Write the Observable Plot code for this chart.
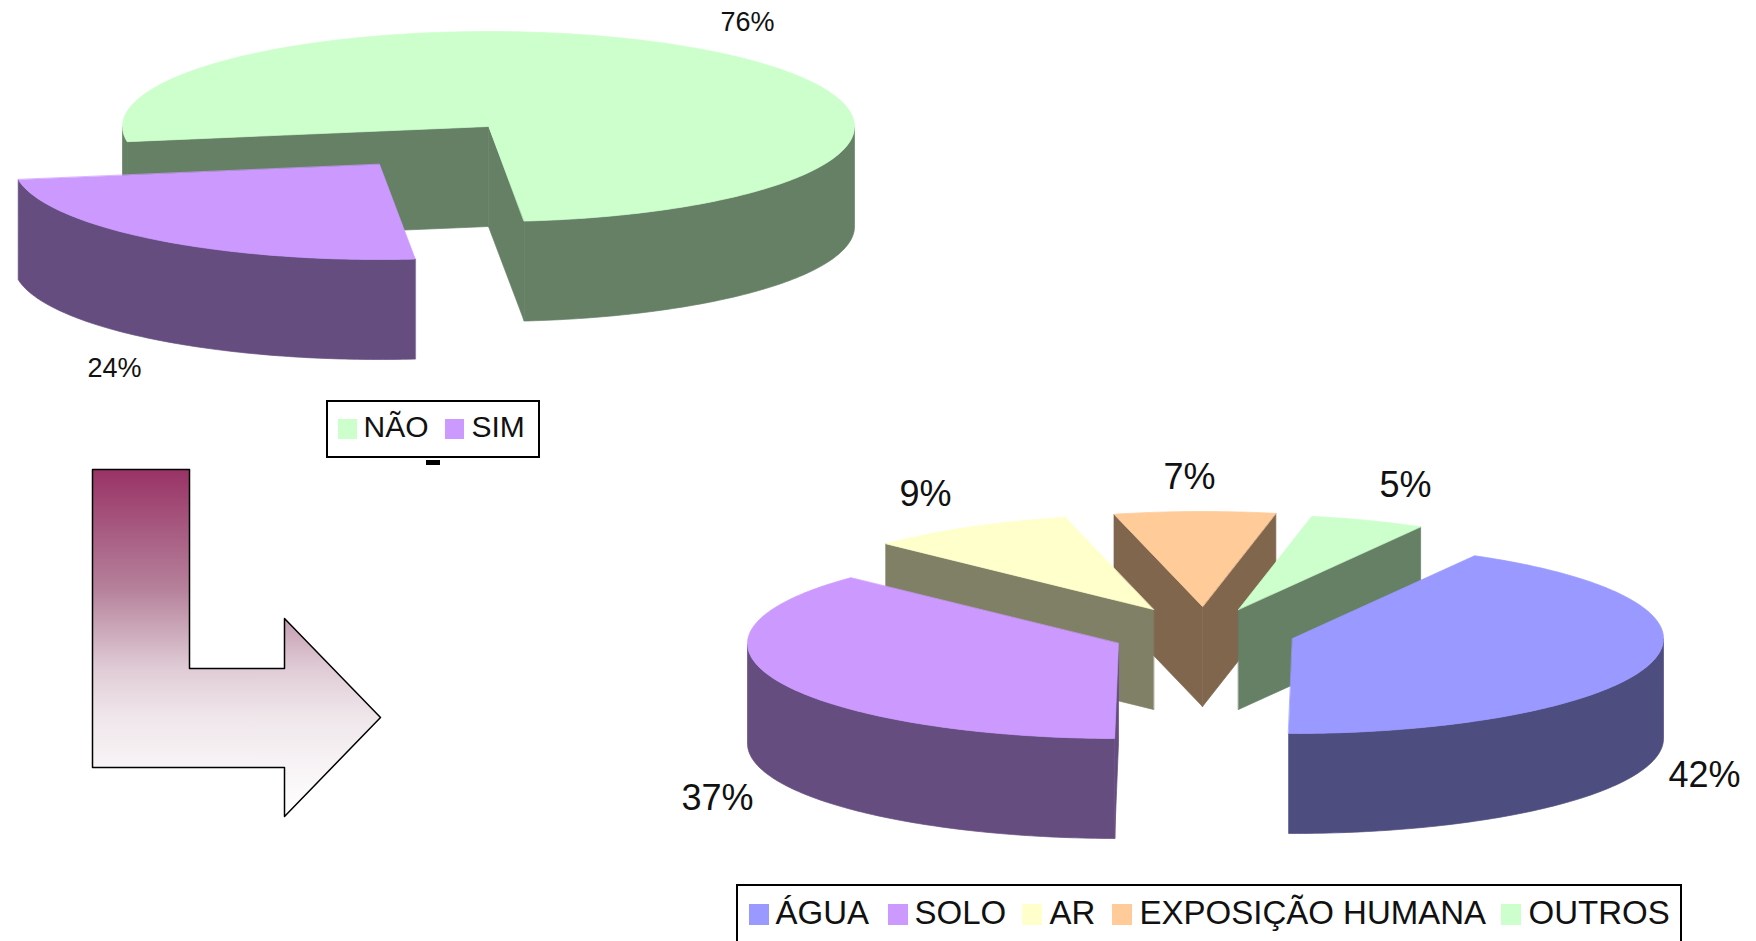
<!DOCTYPE html>
<html>
<head>
<meta charset="utf-8">
<script src="https://cdn.jsdelivr.net/npm/d3@7"></script>
<script src="https://cdn.jsdelivr.net/npm/@observablehq/plot@0.6"></script>
<style>
  html, body { margin: 0; padding: 0; background: #fff; overflow: hidden; }
  svg { display: block; }
</style>
</head>
<body>
<div id="chart"></div>
<script>
// Share of cases answering yes or no
const answerNames = ["NÃO", "SIM"];
const answerValues = [76, 24];
const answerTops = ["#ccffcc", "#cc99ff"];
const answerSides = ["#668066", "#664d80"];

// Share of cases by exposure route
const routeNames = ["ÁGUA", "SOLO", "AR", "EXPOSIÇÃO HUMANA", "OUTROS"];
const routeValues = [42, 37, 9, 7, 5];
const routeTops = ["#9999ff", "#cc99ff", "#ffffcc", "#ffcc99", "#ccffcc"];
const routeSides = ["#4d4d80", "#664d80", "#808066", "#80664d", "#668066"];

// Pie layout: exploded slice centres, ellipse radii, extrusion depth, first angle in degrees
const answerPie = {
  centres: [[488, 126], [379, 164]],
  rx: 366, ry: 95, depth: 100, start: -99.2, order: [0, 1]
};
const routePie = {
  centres: [[1292, 638], [1118, 643], [1153, 609], [1202, 606], [1238, 609]],
  rx: 371, ry: 95, depth: 100, start: 29.4, order: [3, 2, 4, 1, 0]
};

// Percentage label anchors (baseline left)
const answerLabelSpots = [[720, 30], [87, 376]];
const routeLabelSpots = [[1668, 786], [681, 809], [899, 505], [1163, 488], [1379, 496]];

// Legend layout
const answerLegend = {
  box: [327, 401, 539, 457], swatchY: [419, 439], baseline: 436, size: 30,
  swatchX: [338, 445], textX: [363, 471], swatchW: 19
};
const routeLegend = {
  box: [737, 885, 1681, 960], swatchY: [904, 925], baseline: 923, size: 33,
  swatchX: [749, 888, 1022, 1112, 1501], textX: [775, 914, 1049, 1139, 1528], swatchW: 20
};

// Bent arrow outline leading from the first pie to the second
const arrowOutline = [
  [92, 469], [189, 469], [189, 668], [284, 668], [284, 618],
  [380, 717], [284, 816], [284, 767], [92, 767]
];
const arrowFade = [
  [0, "#993366"], [0.34, "#b5809a"], [0.57, "#dfcbd5"],
  [0.71, "#efe6ea"], [0.86, "#f8f4f6"], [1, "#ffffff"]
];
const legendNotch = [426, 460, 440, 465];

const font = "'Liberation Sans', Arial, sans-serif";

// Turns values into closed polygons: back walls, outer rim, then the top face of each slice.
function pieFaces(id, values, tops, sides, pie) {
  const toRad = Math.PI / 180;
  const arcs = d3.pie().sort(null)
    .startAngle(pie.start * toRad)
    .endAngle((pie.start + 360) * toRad)(values);
  const rows = [];
  const push = (key, fill, points) => points.forEach(([x, y]) => rows.push({key, fill, x, y}));

  for (const i of pie.order) {
    const {startAngle: a, endAngle: b} = arcs[i];
    const [cx, cy] = pie.centres[i];
    const rim = (t) => [cx + pie.rx * Math.sin(t), cy - pie.ry * Math.cos(t)];
    const down = ([x, y]) => [x, y + pie.depth];
    const wall = (t) => {
      const p = rim(t);
      return [[cx, cy], p, down(p), [cx, cy + pie.depth]];
    };
    const angles = d3.range(a, b, toRad).concat(b);

    if (Math.sin(a) < 0) push(`${id}${i}-wall-a`, sides[i], wall(a));
    if (Math.sin(b) > 0) push(`${id}${i}-wall-b`, sides[i], wall(b));

    // Only the stretch of rim turned towards the viewer is drawn
    let run = [];
    let runs = 0;
    const flush = () => {
      if (run.length > 1) {
        const upper = run.map(rim);
        push(`${id}${i}-rim-${runs++}`, sides[i], upper.concat(upper.slice().reverse().map(down)));
      }
      run = [];
    };
    for (const t of angles) {
      if (Math.cos(t) <= 0) run.push(t); else flush();
    }
    flush();

    push(`${id}${i}-top`, tops[i], [[cx, cy], ...angles.map(rim)]);
  }
  return rows;
}

// A hairline stroke in the face colour closes the seams between neighbouring faces
function faceMark(rows) {
  return Plot.line(rows, {
    x: "x", y: "y", z: "key", fill: "fill",
    stroke: "fill", strokeWidth: 0.7, curve: "linear-closed"
  });
}

function labelRows(values, spots) {
  return values.map((v, i) => ({text: `${v}%`, x: spots[i][0], y: spots[i][1]}));
}

function legendMarks(names, tops, legend) {
  const [x1, y1, x2, y2] = legend.box;
  const items = names.map((name, i) => ({
    name, fill: tops[i], sx: legend.swatchX[i], tx: legend.textX[i]
  }));
  return [
    Plot.rect([{x1, y1, x2, y2}], {
      x1: "x1", y1: "y1", x2: "x2", y2: "y2",
      fill: "white", stroke: "black", strokeWidth: 2
    }),
    Plot.rect(items, {
      x1: "sx", x2: (d) => d.sx + legend.swatchW,
      y1: () => legend.swatchY[0], y2: () => legend.swatchY[1],
      fill: "fill"
    }),
    Plot.text(items, {
      x: "tx", y: () => legend.baseline, text: "name",
      textAnchor: "start", lineAnchor: "bottom",
      fontSize: legend.size, fontFamily: font, fill: "#111"
    })
  ];
}

const percentMark = (rows, size) => Plot.text(rows, {
  x: "x", y: "y", text: "text",
  textAnchor: "start", lineAnchor: "bottom",
  fontSize: size, fontFamily: font, fill: "#111"
});

const arrowRows = arrowOutline.map(([x, y]) => ({x, y}));

const chart = Plot.plot({
  width: 1756,
  height: 941,
  margin: 0,
  style: {background: "white"},
  x: {domain: [0, 1756], range: [0, 1756], axis: null},
  y: {domain: [0, 941], range: [0, 941], axis: null},
  color: {type: "identity"},
  marks: [
    () => {
      const svg = d3.create("svg:defs");
      const grad = svg.append("linearGradient")
        .attr("id", "arrow-fade").attr("x1", 0).attr("y1", 0).attr("x2", 0).attr("y2", 1);
      for (const [offset, colour] of arrowFade) {
        grad.append("stop").attr("offset", offset).attr("stop-color", colour);
      }
      return svg.node();
    },
    faceMark(pieFaces("answer", answerValues, answerTops, answerSides, answerPie)),
    faceMark(pieFaces("route", routeValues, routeTops, routeSides, routePie)),
    percentMark(labelRows(answerValues, answerLabelSpots), 27),
    percentMark(labelRows(routeValues, routeLabelSpots), 36),
    ...legendMarks(answerNames, answerTops, answerLegend),
    ...legendMarks(routeNames, routeTops, routeLegend),
    Plot.rect([legendNotch], {
      x1: (d) => d[0], y1: (d) => d[1], x2: (d) => d[2], y2: (d) => d[3], fill: "black"
    }),
    Plot.line(arrowRows, {
      x: "x", y: "y", fill: "url(#arrow-fade)",
      stroke: "black", strokeWidth: 1.5, curve: "linear-closed"
    })
  ]
});

document.getElementById("chart").append(chart);
</script>
</body>
</html>
